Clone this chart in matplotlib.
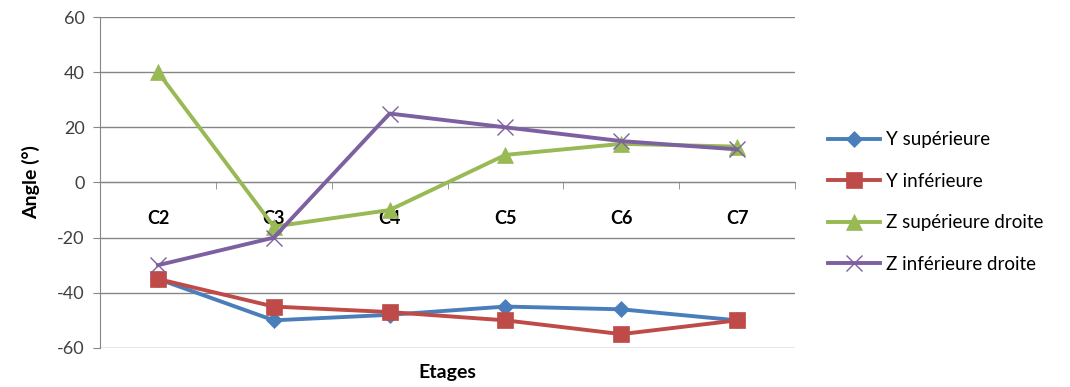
import matplotlib
matplotlib.use("Agg")
import matplotlib.pyplot as plt
import matplotlib.ticker as tck
import numpy as np

plt.rcParams['font.family'] = ['Lato', 'DejaVu Sans']
plt.rcParams['axes.unicode_minus'] = False

categories = ['C2', 'C3', 'C4', 'C5', 'C6', 'C7']
y_sup = [-35, -50, -48, -45, -46, -50]
y_inf = [-35, -45, -47, -50, -55, -50]
z_sup_droite = [40, -16, -10, 10, 14, 13]
z_inf_droite = [-30, -20, 25, 20, 15, 12]

series = [
    ('Y supérieure', y_sup, '#4A7EBB', 'D', 8),
    ('Y inférieure', y_inf, '#BE4B48', 's', 11),
    ('Z supérieure droite', z_sup_droite, '#98B954', '^', 11),
    ('Z inférieure droite', z_inf_droite, '#7D60A0', 'x', 11),
]

fig = plt.figure(figsize=(10.7, 3.87), dpi=100)
ax = fig.add_axes([0.0935, 0.101, 0.6495, 0.855])

x = np.arange(len(categories))
for name, vals, col, mk, ms in series:
    ax.plot(x, vals, color=col, lw=2.8, marker=mk, markersize=ms,
            markeredgewidth=1.0 if mk == 'x' else 0.5, markeredgecolor=col,
            label=name, zorder=3)

ax.set_xlim(-0.5, len(categories) - 0.5)
ax.set_ylim(-60, 60)
ax.yaxis.set_major_locator(tck.MultipleLocator(20))
ax.grid(axis='y', color='#868686', lw=1)
ax.set_axisbelow(True)

for s in ['top', 'right']:
    ax.spines[s].set_visible(False)
ax.spines['left'].set_color('#868686')
ax.spines['bottom'].set_position(('data', 0))
ax.spines['bottom'].set_color('#868686')

ax.set_xticks(x)
ax.set_xticklabels(categories, fontweight='bold')
ax.xaxis.set_minor_locator(tck.FixedLocator(np.arange(len(categories) + 1) - 0.5))
ax.tick_params(axis='x', which='major', length=0, pad=20, labelsize=13, colors='black')
ax.tick_params(axis='x', which='minor', length=5, color='#868686', direction='out')
ax.tick_params(axis='y', length=5, color='#868686', direction='out', labelsize=13,
               labelcolor='#404040', pad=6)

ax.set_ylabel('Angle (°)', fontsize=14, fontweight='bold', labelpad=12)
ax.text(0.5, -0.05, 'Etages', transform=ax.transAxes, ha='center', va='top',
        fontsize=14, fontweight='bold')

fig.legend(loc='center left', bbox_to_anchor=(0.758, 0.478), frameon=False,
           fontsize=13.5, handlelength=2.8, labelspacing=1.3, handletextpad=0.3)

fig.savefig('out.png', dpi=100)
